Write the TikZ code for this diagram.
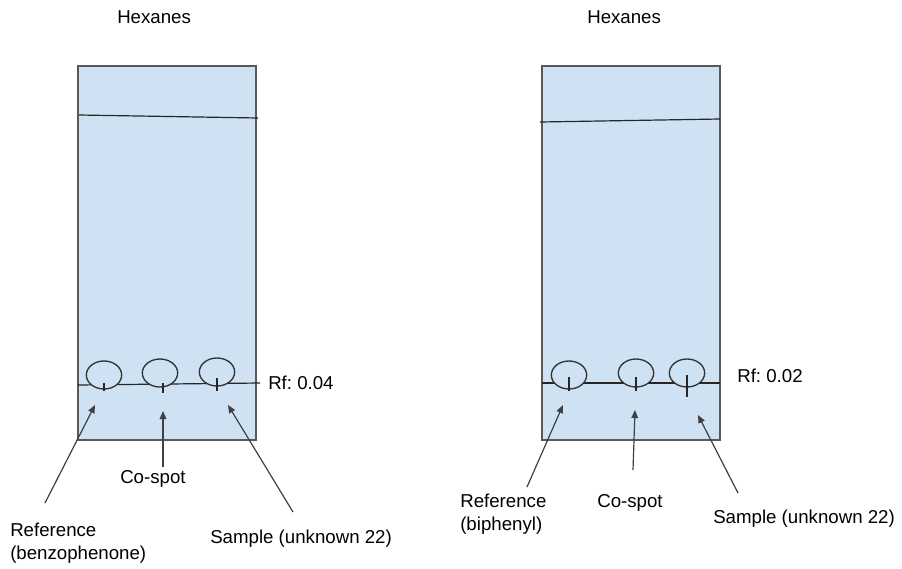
\documentclass[tikz,border=0pt]{standalone}
\usepackage{fontspec}
\setmainfont{Liberation Sans}
\frenchspacing
\usetikzlibrary{arrows.meta,shapes.geometric}
\definecolor{platefill}{HTML}{CFE2F3}
\definecolor{plateedge}{HTML}{595959}
\begin{document}
\begin{tikzpicture}[x=0.75pt,y=-0.75pt,
  plate/.style={draw=plateedge,fill=platefill,line width=1pt},
  front/.style={draw=black!85,line width=0.9pt},
  spot/.style={ellipse,draw=black!80,fill=platefill,line width=1pt,minimum width=26.5pt,minimum height=21pt,inner sep=0pt},
  spottick/.style={draw=black!85,line width=0.9pt},
  lbl/.style={font=\fontsize{14}{17.25}\selectfont,anchor=base west,inner sep=0pt,align=left},
  pointer/.style={draw=black!75,line width=0.9pt,-{Triangle[length=6pt,width=5pt]}}]
\useasboundingbox (0,0) rectangle (902,568);

% ---------- left plate ----------
\node[lbl] (hexL) at (117,23) {Hexanes};
\path[plate] (78,66) rectangle (256,440);
\draw[front] (79,115) -- (258,118);
\draw[front] (78,385) -- (260,383);
\node[spot] (l1) at (104,375) {};
\node[spot] (l2) at (160,373) {};
\node[spot] (l3) at (217,372) {};
\draw[spottick] (104,383) -- (104,391);
\draw[spottick] (163,383) -- (163,393);
\draw[spottick] (217,378) -- (217,391);
\node[lbl] (rfL) at (268,389) {Rf: 0.04};

\node[lbl] (refL) at (10,559) {Reference\\(benzophenone)};
\node[lbl] (coL) at (120,483) {Co-spot};
\node[lbl] (samL) at (210,543) {Sample (unknown 22)};

\coordinate (lt1) at (45,503);  \coordinate (lh1) at (95,405);
\coordinate (lt2) at (163,467); \coordinate (lh2) at (163,411);
\coordinate (lt3) at (293,512); \coordinate (lh3) at (228,405);
\draw[pointer] (lt1) -- (lh1);
\draw[pointer] (lt2) -- (lh2);
\draw[pointer] (lt3) -- (lh3);

% ---------- right plate ----------
\node[lbl] (hexR) at (587,23) {Hexanes};
\path[plate] (542,66) rectangle (720,440);
\draw[front] (540,122) -- (720,119);
\draw[front] (542,383) -- (720,383);
\node[spot] (r1) at (569,375) {};
\node[spot] (r2) at (636,373) {};
\node[spot] (r3) at (687,373) {};
\draw[spottick] (569,377) -- (569,391);
\draw[spottick] (636,377) -- (636,391);
\draw[spottick] (687,375) -- (687,397);
\node[lbl] (rfR) at (737,382) {Rf: 0.02};

\node[lbl] (refR) at (460,530) {Reference\\(biphenyl)};
\node[lbl] (coR) at (597,507) {Co-spot};
\node[lbl] (samR) at (713,523) {Sample (unknown 22)};

\coordinate (rt1) at (527,487); \coordinate (rh1) at (563,405);
\coordinate (rt2) at (633,470); \coordinate (rh2) at (635,410);
\coordinate (rt3) at (738,493); \coordinate (rh3) at (698,415);
\draw[pointer] (rt1) -- (rh1);
\draw[pointer] (rt2) -- (rh2);
\draw[pointer] (rt3) -- (rh3);
\end{tikzpicture}
\end{document}
